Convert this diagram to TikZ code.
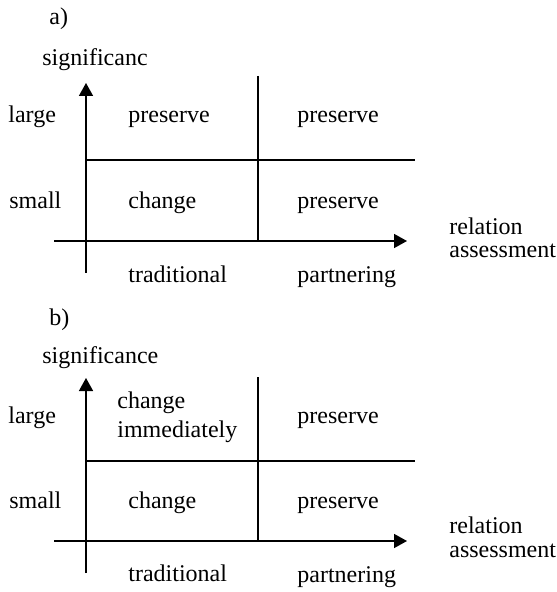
\documentclass[tikz,border=0pt]{standalone}
\usepackage{fontspec}
\setmainfont{Liberation Serif}
\usepackage{tikz}
\usetikzlibrary{arrows.meta}

\begin{document}
\begin{tikzpicture}[
                x=0.5pt, y=-0.5pt,
                lbl/.style={anchor=base west, inner sep=0pt, font=\fontsize{12}{14}\selectfont},
                axis/.style={-{Triangle[length=6.5pt,width=7pt]}, line width=0.75pt},
                divider/.style={line width=0.75pt}
            ]
            \useasboundingbox (0,0) rectangle (556,592);

            % panel a
            \node[lbl] (a_title) at (49,25) {a)};
            \node[lbl] (a_sig) at (42,66) {significanc};
            \node[lbl] (a_large) at (8,123) {large};
            \node[lbl] (a_small) at (9,209) {small};
            \node[lbl] (a_ul) at (128,123) {preserve};
            \node[lbl] (a_ur) at (297,123) {preserve};
            \node[lbl] (a_ll) at (128,209) {change};
            \node[lbl] (a_lr) at (297,209) {preserve};
            \node[lbl] (a_rel) at (449,235) {relation};
            \node[lbl] (a_assess) at (449,258) {assessment};
            \node[lbl] (a_trad) at (128,283) {traditional};
            \node[lbl] (a_partner) at (297,283) {partnering};

            \coordinate (a_ybot) at (86,273);
            \coordinate (a_ytop) at (86,83);
            \coordinate (a_xleft) at (54,241);
            \coordinate (a_xright) at (407,241);
            \coordinate (a_midl) at (86,160);
            \coordinate (a_midr) at (415,160);
            \coordinate (a_vtop) at (258,76);
            \coordinate (a_vbot) at (258,241);

            \draw[axis] (a_ybot) -- (a_ytop);
            \draw[axis] (a_xleft) -- (a_xright);
            \draw[divider] (a_midl) -- (a_midr);
            \draw[divider] (a_vtop) -- (a_vbot);

            % panel b
            \node[lbl] (b_title) at (49,325) {b)};
            \node[lbl] (b_sig) at (42,363) {significance};
            \node[lbl] (b_large) at (8,423) {large};
            \node[lbl] (b_small) at (9,508) {small};
            \node[lbl] (b_ul1) at (117,408) {change};
            \node[lbl] (b_ul2) at (117,437) {immediately};
            \node[lbl] (b_ur) at (297,423) {preserve};
            \node[lbl] (b_ll) at (128,508) {change};
            \node[lbl] (b_lr) at (297,508) {preserve};
            \node[lbl] (b_rel) at (449,533) {relation};
            \node[lbl] (b_assess) at (449,557) {assessment};
            \node[lbl] (b_trad) at (128,581) {traditional};
            \node[lbl] (b_partner) at (297,582) {partnering};

            \coordinate (b_ybot) at (86,573);
            \coordinate (b_ytop) at (86,378);
            \coordinate (b_xleft) at (54,541);
            \coordinate (b_xright) at (407,541);
            \coordinate (b_midl) at (86,461);
            \coordinate (b_midr) at (415,461);
            \coordinate (b_vtop) at (258,377);
            \coordinate (b_vbot) at (258,541);

            \draw[axis] (b_ybot) -- (b_ytop);
            \draw[axis] (b_xleft) -- (b_xright);
            \draw[divider] (b_midl) -- (b_midr);
            \draw[divider] (b_vtop) -- (b_vbot);
\end{tikzpicture}
\end{document}
